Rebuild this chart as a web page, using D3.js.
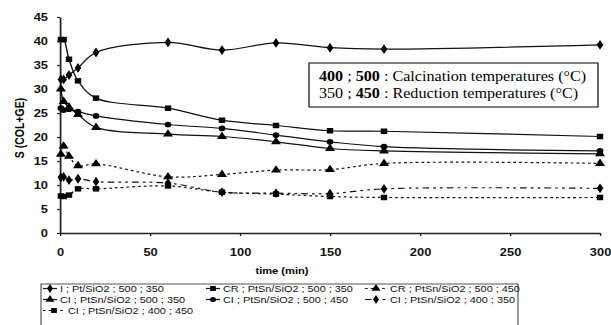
<!DOCTYPE html>
<html>
<head>
<meta charset="utf-8">
<script src="https://cdn.jsdelivr.net/npm/d3@7"></script>
<style>
    body { margin: 0; background: #fff; }
    svg { display: block; }
</style>
</head>
<body>
<div id="chart"></div>
<script>
// Sampling times (min)
const times = [0.5, 2, 5, 10, 20, 60, 90, 120, 150, 180, 300];

// S (COL+GE) for each catalyst
const iPt_500_350   = [32.0, 32.0, 32.9, 34.4, 37.6, 39.7, 38.1, 39.6, 38.6, 38.3, 39.2];
const crPtSn_500_350 = [40.3, 40.3, 36.2, 31.7, 28.1, 26.0, 23.5, 22.4, 21.3, 21.2, 20.1];
const crPtSn_500_450 = [16.4, 18.1, 16.0, 14.0, 14.4, 11.7, 12.2, 13.1, 13.2, 14.5, 14.5];
const ciPtSn_500_350 = [30.0, 27.4, 26.2, 24.7, 22.0, 20.6, 20.1, 19.0, 17.6, 17.1, 16.5];
const ciPtSn_500_450 = [26.0, 25.6, 25.8, 25.3, 24.4, 22.6, 21.8, 20.4, 19.0, 18.0, 17.1];
const ciPtSn_400_350 = [11.6, 11.7, 11.0, 11.3, 10.7, 10.4, 8.5, 8.3, 8.2, 9.2, 9.3];
const ciPtSn_400_450 = [7.7, 7.6, 7.9, 9.2, 9.2, 9.8, 8.5, 8.1, 7.6, 7.4, 7.4];

const seriesLabels = [
    'I ; Pt/SiO2 ; 500 ; 350',
    'CR ; PtSn/SiO2 ; 500 ; 350',
    'CR ; PtSn/SiO2 ; 500 ; 450',
    'CI ; PtSn/SiO2 ; 500 ; 350',
    'CI ; PtSn/SiO2 ; 500 ; 450',
    'CI ; PtSn/SiO2 ; 400 ; 350',
    'CI ; PtSn/SiO2 ; 400 ; 450'
];

const xTickValues = [0, 50, 100, 150, 200, 250, 300];
const yTickValues = [0, 5, 10, 15, 20, 25, 30, 35, 40, 45];

// The picture is stretched sideways, so draw in a narrower viewBox
const SX = 1.17;
const W = 611, H = 325;
const vx = px => px / SX;

const series = [
    { label: seriesLabels[0], values: iPt_500_350,   symbol: d3.symbolDiamond,  size: 28, dash: null },
    { label: seriesLabels[1], values: crPtSn_500_350, symbol: d3.symbolSquare,   size: 30, dash: null },
    { label: seriesLabels[2], values: crPtSn_500_450, symbol: d3.symbolTriangle, size: 32, dash: '2.3,2.6' },
    { label: seriesLabels[3], values: ciPtSn_500_350, symbol: d3.symbolTriangle, size: 32, dash: null },
    { label: seriesLabels[4], values: ciPtSn_500_450, symbol: d3.symbolCircle,   size: 26, dash: null },
    { label: seriesLabels[5], values: ciPtSn_400_350, symbol: d3.symbolDiamond,  size: 28, dash: '5.7,3.5,2.3,3.5,2.3,3.5' },
    { label: seriesLabels[6], values: ciPtSn_400_450, symbol: d3.symbolSquare,   size: 30, dash: '2.3,2.6' }
];

const svg = d3.select('#chart')
    .append('svg')
    .attr('width', W)
    .attr('height', H)
    .attr('viewBox', `0 0 ${W / SX} ${H}`)
    .attr('preserveAspectRatio', 'none');

const x = d3.scaleLinear().domain([0, 300]).range([vx(60), vx(600)]);
const y = d3.scaleLinear().domain([0, 45]).range([233, 17]);

// Axes
const styleAxis = g => {
    g.attr('font-family', 'Arial, "Liberation Sans", sans-serif')
        .attr('font-size', 11)
        .attr('font-weight', 'bold');
    g.select('.domain').attr('stroke', '#222').attr('stroke-width', 1.5);
    g.selectAll('.tick line').attr('stroke', '#222').attr('stroke-width', 1.2);
    g.selectAll('.tick text').attr('fill', '#111');
};

svg.append('g')
    .attr('transform', 'translate(0,233)')
    .call(d3.axisBottom(x).tickValues(xTickValues).tickSize(3).tickSizeOuter(0).tickPadding(12))
    .call(styleAxis);

svg.append('g')
    .attr('transform', `translate(${vx(60)},0)`)
    .call(d3.axisLeft(y).tickValues(yTickValues).tickSize(vx(3)).tickSizeOuter(0).tickPadding(vx(9)))
    .call(styleAxis);

// Axis titles
svg.append('text')
    .attr('transform', `translate(${vx(19.5)},128) rotate(-90)`)
    .attr('text-anchor', 'middle')
    .attr('dy', '0.35em')
    .attr('font-family', 'Arial, "Liberation Sans", sans-serif')
    .attr('font-size', 10.5)
    .attr('font-weight', 'bold')
    .text('S (COL+GE)');

svg.append('text')
    .attr('x', vx(282))
    .attr('y', 274)
    .attr('text-anchor', 'middle')
    .attr('font-family', 'Arial, "Liberation Sans", sans-serif')
    .attr('font-size', 9.5)
    .attr('font-weight', 'bold')
    .text('time (min)');

// Lines and markers
const line = d3.line()
    .x(d => x(d[0]))
    .y(d => y(d[1]))
    .curve(d3.curveCatmullRom.alpha(0.5));

const plot = svg.append('g');

series.forEach(s => {
    const pts = times.map((t, i) => [t, s.values[i]]);
    plot.append('path')
        .datum(pts)
        .attr('d', line)
        .attr('fill', 'none')
        .attr('stroke', '#111')
        .attr('stroke-width', 1.2)
        .attr('stroke-dasharray', s.dash);

    plot.selectAll(null)
        .data(pts)
        .enter()
        .append('path')
        .attr('transform', d => `translate(${x(d[0])},${y(d[1])})`)
        .attr('d', d3.symbol().type(s.symbol).size(s.size))
        .attr('fill', '#000');
});

// Annotation box
const note = svg.append('g');
note.append('rect')
    .attr('x', vx(309))
    .attr('y', 63)
    .attr('width', vx(598 - 309))
    .attr('height', 44)
    .attr('fill', '#fff')
    .attr('stroke', '#000')
    .attr('stroke-width', 1);

const noteLines = [
    [['400', true], [' ; ', false], ['500', true], [' : Calcination temperatures (°C)', false]],
    [['350', false], [' ; ', false], ['450', true], [' : Reduction temperatures (°C)', false]]
];

noteLines.forEach((parts, i) => {
    const t = note.append('text')
        .attr('x', vx(319))
        .attr('y', 81.5 + i * 16.6)
        .attr('font-family', '"Liberation Serif", "Times New Roman", serif')
        .attr('font-size', 13.8)
        .attr('fill', '#000')
        .attr('xml:space', 'preserve');
    parts.forEach(p => {
        t.append('tspan')
            .attr('font-weight', p[1] ? 'bold' : 'normal')
            .text(p[0]);
    });
});

// Legend
const legend = svg.append('g');
legend.append('rect')
    .attr('x', vx(41))
    .attr('y', 284)
    .attr('width', vx(518 - 41))
    .attr('height', 60)
    .attr('fill', '#fff')
    .attr('stroke', '#555')
    .attr('stroke-width', 1);

const legendCols = [43, 206, 365];
const legendRows = [288.5, 299.5, 310.5];

series.forEach((s, i) => {
    const cx = legendCols[i % 3];
    const cy = legendRows[Math.floor(i / 3)];
    const keyLen = s.dash ? 22 : 14;
    const item = legend.append('g');
    item.append('line')
        .attr('x1', vx(cx))
        .attr('x2', vx(cx + keyLen))
        .attr('y1', cy)
        .attr('y2', cy)
        .attr('stroke', '#111')
        .attr('stroke-width', 1.2)
        .attr('stroke-dasharray', s.dash);
    item.append('path')
        .attr('transform', `translate(${vx(cx + keyLen / 2)},${cy})`)
        .attr('d', d3.symbol().type(s.symbol).size(s.size * 0.8))
        .attr('fill', '#000');
    item.append('text')
        .attr('x', vx(cx + keyLen + 3))
        .attr('y', cy)
        .attr('dy', '0.35em')
        .attr('font-family', 'Arial, "Liberation Sans", sans-serif')
        .attr('font-size', 9.3)
        .attr('fill', '#111')
        .text(s.label);
});
</script>
</body>
</html>
